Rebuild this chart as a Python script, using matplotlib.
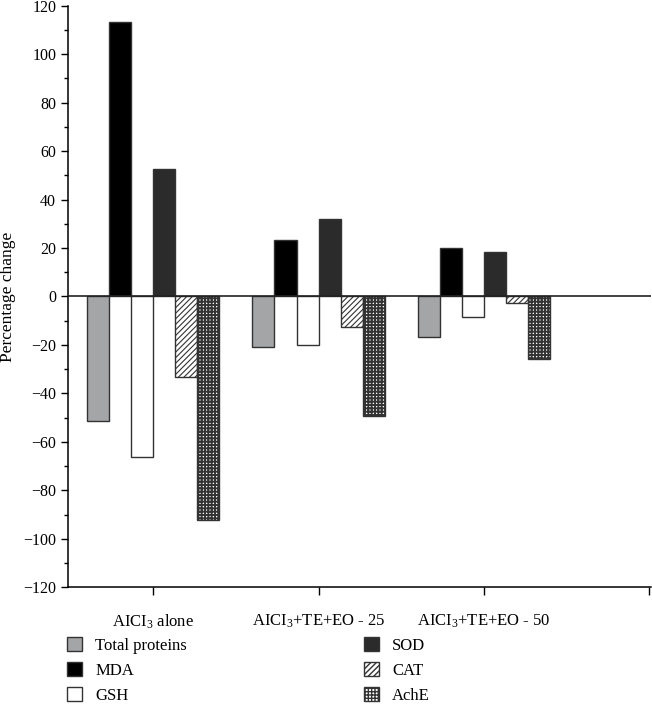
import matplotlib
matplotlib.use("Agg")
import matplotlib.pyplot as plt
import numpy as np
from matplotlib.patches import Patch
from matplotlib.ticker import MultipleLocator

plt.rcParams['font.family'] = ['Liberation Serif', 'DejaVu Serif']
plt.rcParams['mathtext.fontset'] = 'custom'
plt.rcParams['mathtext.rm'] = 'Liberation Serif'
plt.rcParams['mathtext.default'] = 'regular'

groups = ['AICI$_3$ alone', 'AICI$_3$+TE+EO - 25', 'AICI$_3$+TE+EO - 50']
series = ['Total proteins', 'MDA', 'GSH', 'SOD', 'CAT', 'AchE']
total_proteins = [-51.5, -20.9, -16.6]
mda = [113.3, 23.5, 19.8]
gsh = [-66.2, -20.2, -8.4]
sod = [52.7, 31.8, 18.3]
cat = [-33.2, -12.5, -2.5]
ache = [-92.1, -49.3, -25.8]
values = [total_proteins, mda, gsh, sod, cat, ache]

facecolors = ['#a3a5a7', '#000000', '#ffffff', '#2b2b2c', '#ffffff', '#ffffff']
hatches = [None, None, None, None, '//////', '+++++']
hatch_lw = [0.8, 0.8, 0.8, 0.8, 0.8, 1.4]

fig = plt.figure(figsize=(6.52, 7.08), dpi=100)
ax = fig.add_axes([0.1043, 0.1705, 0.8942, 0.8215])

x = np.arange(len(groups))
w = 0.8 / len(series)
handles = []
for i, (name, vals) in enumerate(zip(series, values)):
    with plt.rc_context({'hatch.linewidth': hatch_lw[i]}):
        ax.bar(x - 0.4 + w * (i + 0.5), vals, width=w, color=facecolors[i],
               edgecolor='#333333', linewidth=1.0, hatch=hatches[i], label=name)
        handles.append(Patch(facecolor=facecolors[i], edgecolor='#333333',
                             hatch=hatches[i], linewidth=1.0))

ax.axhline(0, color='#222222', linewidth=1.2, zorder=3)
ax.set_xlim(-0.515, 3.01)
ax.set_ylim(-120, 120)
ax.set_xticks([0, 1, 2, 3])
ax.set_xticklabels(groups + [''], fontsize=12)
ax.yaxis.set_major_locator(MultipleLocator(20))
ax.yaxis.set_minor_locator(MultipleLocator(10))
ax.tick_params(axis='y', which='major', length=5, width=1, labelsize=11.5)
ax.tick_params(axis='y', which='minor', length=3, width=1)
ax.tick_params(axis='x', length=6, width=1, pad=12)
for s in ['top', 'right']:
    ax.spines[s].set_visible(False)
for s in ['left', 'bottom']:
    ax.spines[s].set_linewidth(1.1)
ax.set_ylabel('Percentage change', fontsize=12.5, labelpad=5)

leg_kw = dict(frameon=False, fontsize=12, handlelength=0.9, handleheight=0.9,
              handletextpad=0.8, labelspacing=0.5, borderpad=0, borderaxespad=0)
fig.legend(handles[:3], series[:3], loc='upper left',
           bbox_to_anchor=(67 / 652, 1 - 637 / 708), **leg_kw)
fig.legend(handles[3:], series[3:], loc='upper left',
           bbox_to_anchor=(364 / 652, 1 - 637 / 708), **leg_kw)

fig.savefig('out.png', dpi=100)
